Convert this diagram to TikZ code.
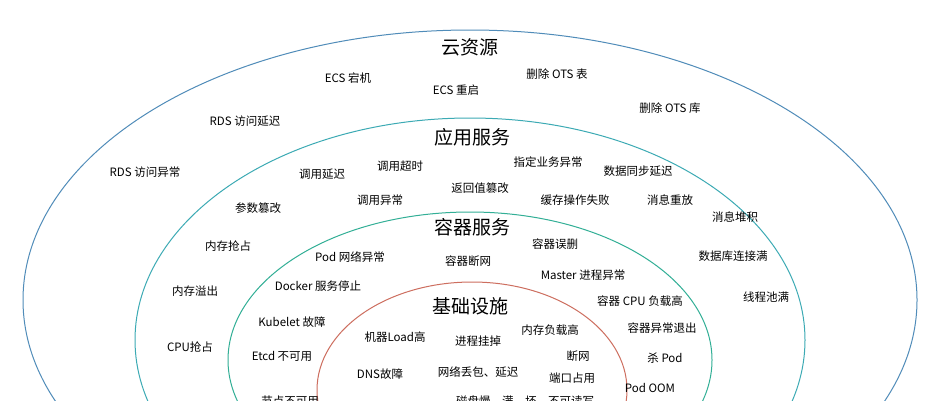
\documentclass[tikz,border=0pt]{standalone}
\usepackage{fontspec}
\setmainfont{Noto Sans CJK SC}
\begin{document}
\begin{tikzpicture}[x=1pt,y=-1pt,
  lbl/.style={font=\fontsize{11.5}{12}\selectfont, inner sep=0pt},
  ttl/.style={font=\fontsize{19}{20}\selectfont, inner sep=0pt},
  ring/.style={line width=1pt}]
\useasboundingbox (0,0) rectangle (925,400);
\clip (0,0) rectangle (925,400);
\fill[white] (0,0) rectangle (925,400);
\definecolor{c1}{RGB}{80,140,185}
\definecolor{c2}{RGB}{60,170,180}
\definecolor{c3}{RGB}{50,175,150}
\definecolor{c4}{RGB}{205,110,95}
\draw[ring,c1] (470,300) ellipse [x radius=447, y radius=270];
\draw[ring,c2] (470,340) ellipse [x radius=335, y radius=222];
\draw[ring,c3] (470,360) ellipse [x radius=242, y radius=148];
\draw[ring,c4] (472,390) ellipse [x radius=155, y radius=108];
\node[ttl] (t1) at (470,47) {云资源};
\node[ttl] (t2) at (472,137) {应用服务};
\node[ttl] (t3) at (472,227) {容器服务};
\node[ttl] (t4) at (470,306) {基础设施};
\node[lbl] (a1) at (348,78) {ECS 宕机};
\node[lbl] (a2) at (456,90) {ECS 重启};
\node[lbl] (a3) at (557,74) {删除 OTS 表};
\node[lbl] (a4) at (670,108) {删除 OTS 库};
\node[lbl] (a5) at (245,121) {RDS 访问延迟};
\node[lbl] (a6) at (145,172) {RDS 访问异常};
\node[lbl] (b1) at (322,174) {调用延迟};
\node[lbl] (b2) at (400,166) {调用超时};
\node[lbl] (b3) at (548,162) {指定业务异常};
\node[lbl] (b4) at (638,171) {数据同步延迟};
\node[lbl] (b5) at (480,188) {返回值篡改};
\node[lbl] (b6) at (380,200) {调用异常};
\node[lbl] (b7) at (575,200) {缓存操作失败};
\node[lbl] (b8) at (670,200) {消息重放};
\node[lbl] (b9) at (258,208) {参数篡改};
\node[lbl] (b10) at (735,217) {消息堆积};
\node[lbl] (b11) at (228,246) {内存抢占};
\node[lbl] (b12) at (733,256) {数据库连接满};
\node[lbl] (b13) at (195,291) {内存溢出};
\node[lbl] (b14) at (766,297) {线程池满};
\node[lbl] (b15) at (190,347) {CPU抢占};
\node[lbl] (c1n) at (555,244) {容器误删};
\node[lbl] (c2n) at (350,257) {Pod 网络异常};
\node[lbl] (c3n) at (468,261) {容器断网};
\node[lbl] (c4n) at (583,275) {Master 进程异常};
\node[lbl] (c5n) at (318,286) {Docker 服务停止};
\node[lbl] (c6n) at (640,301) {容器 CPU 负载高};
\node[lbl] (c7n) at (292,322) {Kubelet 故障};
\node[lbl] (c8n) at (662,328) {容器异常退出};
\node[lbl] (c9n) at (282,356) {Etcd 不可用};
\node[lbl] (c10n) at (665,358) {杀 Pod};
\node[lbl] (c11n) at (650,388) {Pod OOM};
\node[lbl] (c12n) at (290,401) {节点不可用};
\node[lbl] (d1) at (395,337) {机器Load高};
\node[lbl] (d2) at (478,341) {进程挂掉};
\node[lbl] (d3) at (550,330) {内存负载高};
\node[lbl] (d4) at (578,356) {断网};
\node[lbl] (d5) at (380,374) {DNS故障};
\node[lbl] (d6) at (478,372) {网络丢包、延迟};
\node[lbl] (d7) at (572,378) {端口占用};
\node[lbl] (d8) at (525,401) {磁盘慢、满、坏、不可读写};
\end{tikzpicture}
\end{document}
